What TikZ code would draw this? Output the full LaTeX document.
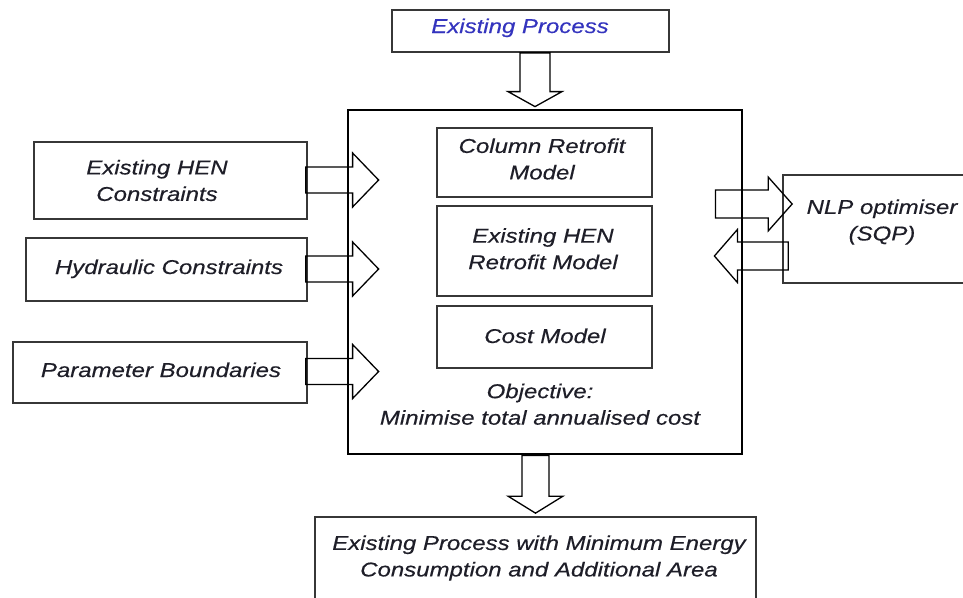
\documentclass[tikz,border=0pt]{standalone}
\usepackage{fontspec}
\setmainfont{Liberation Sans}[FakeStretch=1.2,FakeBold=0.4]
\usetikzlibrary{calc}

\definecolor{inkblue}{RGB}{52,52,190}
\definecolor{inkdark}{RGB}{30,30,40}
\definecolor{edge}{RGB}{55,55,55}

\tikzset{
  box/.style={draw=edge, line width=1.7pt, inner sep=0pt},
  mainbox/.style={draw=black, line width=2.8pt, inner sep=0pt},
  lbl/.style={inner sep=0pt, align=center, text=inkdark,
              font=\fontsize{20}{26.5}\selectfont\itshape},
  % hollow block arrow: #1 shaft half width, #2 head half width, #3 head length
  blockarrow/.style n args={3}{draw=black, line width=1.3pt, line join=miter,
    to path={
      ($(\tikztostart)!#1!90:(\tikztotarget)$)
      -- ($($(\tikztotarget)!#3!(\tikztostart)$)!#1!90:(\tikztotarget)$)
      -- ($($(\tikztotarget)!#3!(\tikztostart)$)!#2!90:(\tikztotarget)$)
      -- (\tikztotarget)
      -- ($($(\tikztotarget)!#3!(\tikztostart)$)!#2!-90:(\tikztotarget)$)
      -- ($($(\tikztotarget)!#3!(\tikztostart)$)!#1!-90:(\tikztotarget)$)
      -- ($(\tikztostart)!#1!-90:(\tikztotarget)$)
      -- cycle \tikztonodes}},
}

\begin{document}
\begin{tikzpicture}[x=1pt,y=-1pt]
\useasboundingbox (0,0) rectangle (963,597);

% boxes
\node[box, minimum width=277pt, minimum height=42pt] (top) at (530.5,31) {};
\node[mainbox, minimum width=394pt, minimum height=344pt] (main) at (545,282) {};
\node[box, minimum width=215pt, minimum height=69pt] (col) at (544.5,162.5) {};
\node[box, minimum width=215pt, minimum height=90pt] (hrm) at (544.5,251) {};
\node[box, minimum width=215pt, minimum height=62pt] (cost) at (544.5,337) {};
\node[box, minimum width=273pt, minimum height=77pt] (henc) at (170.5,180.5) {};
\node[box, minimum width=281pt, minimum height=63pt] (hyd) at (166.5,269.5) {};
\node[box, minimum width=294pt, minimum height=61pt] (par) at (160,372.5) {};
\node[box, minimum width=197pt, minimum height=108pt] (nlp) at (881.5,229) {};
\node[box, minimum width=441pt, minimum height=83pt] (out) at (535.5,558.5) {};

% texts
\node[lbl, text=inkblue, anchor=base] (ept) at (520,33) {Existing Process};
\node[lbl] (hent) at (157,180.5) {Existing HEN\\Constraints};
\node[lbl, anchor=base] (hydt) at (169,274) {Hydraulic Constraints};
\node[lbl, anchor=base] (part) at (161,377) {Parameter Boundaries};
\node[lbl] (colt) at (542,159) {Column Retrofit\\Model};
\node[lbl] (hrmt) at (543,248.75) {Existing HEN\\Retrofit Model};
\node[lbl, anchor=base] (costt) at (545,343) {Cost Model};
\node[lbl] (objt) at (540,404.25) {Objective:\\Minimise total annualised cost};
\node[lbl] (nlpt) at (882,222) {NLP optimiser\\(SQP)};
\node[lbl] (outt) at (539,558) {Existing Process with Minimum Energy\\Consumption and Additional Area};

% block arrows
\draw[blockarrow={15pt}{27pt}{15pt}] ($(top.south)+(4.5,0)$) to ($(main.north)+(-10,-2)$);
\draw[blockarrow={13pt}{27pt}{26pt}] ($(henc.east)+(-2,-0.5)$) to ($(main.west|-henc.east)+(32,-0.5)$);
\draw[blockarrow={13pt}{27pt}{26pt}] ($(hyd.east)+(-2,-0.5)$) to ($(main.west|-hyd.east)+(32,-0.5)$);
\draw[blockarrow={13pt}{27pt}{26pt}] ($(par.east)+(-2,-1)$) to ($(main.west|-par.east)+(32,-1)$);
\draw[blockarrow={14pt}{27pt}{24pt}] ($(main.east|-nlp.center)+(-28,-25)$) to ($(nlp.west)+(10,-25)$);
\draw[blockarrow={14pt}{26.5pt}{23pt}] ($(nlp.west)+(6,27)$) to ($(main.east|-nlp.center)+(-29,27)$);
\draw[blockarrow={13.5pt}{27.5pt}{17pt}] ($(main.south)+(-9.5,0)$) to ($(out.north)+(0,-3)$);
\end{tikzpicture}
\end{document}
